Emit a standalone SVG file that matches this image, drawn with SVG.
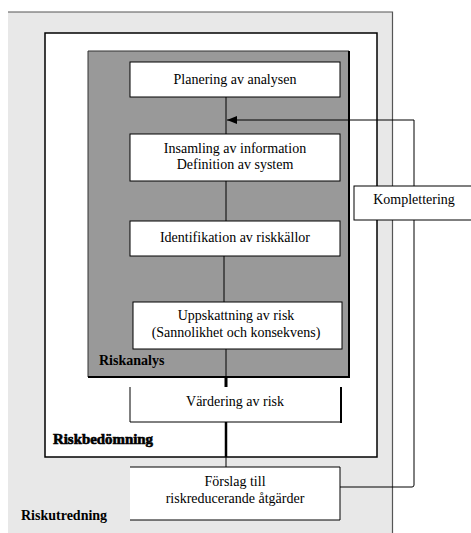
<svg xmlns="http://www.w3.org/2000/svg" width="471" height="533" viewBox="0 0 471 533">
<style>
.t{font-family:"Liberation Serif","Times New Roman",serif;font-size:14px;fill:#000;text-anchor:middle}
.b{font-family:"Liberation Serif","Times New Roman",serif;font-size:14px;font-weight:bold;fill:#000}
.box{fill:#fff;stroke:#000;stroke-width:1}
.ln{fill:none;stroke:#000;stroke-width:1}
</style>
<defs>
<marker id="ah" markerWidth="10" markerHeight="8" refX="10" refY="4" orient="auto" markerUnits="userSpaceOnUse">
<path d="M0,0 L10,4 L0,8 Z" fill="#000"/>
</marker>
</defs>
<rect width="471" height="533" fill="#fff"/>
<g id="riskutredning">
<rect x="8" y="12" width="384" height="522" fill="#e8e8e8"/>
<path d="M8,12 H392.5 V533" fill="none" stroke="#555" stroke-width="1.2"/>
<text class="b" x="21" y="520">Riskutredning</text>
</g>
<g id="riskbedomning">
<rect x="45" y="33" width="332" height="424" fill="#fff" stroke="#000" stroke-width="1.5"/>
<text class="b" x="53" y="444" stroke="#000" stroke-width="0.6" textLength="100" lengthAdjust="spacingAndGlyphs">Riskbedömning</text>
</g>
<g id="riskanalys">
<rect x="88" y="51" width="261" height="326" fill="#999"/>
<path d="M88,377 V51 H349" fill="none" stroke="#333" stroke-width="1"/>
<path d="M349,51 V377 H88" fill="none" stroke="#000" stroke-width="2"/>
<text class="b" x="99" y="365">Riskanalys</text>
</g>
<g id="connectors">
<line class="ln" x1="226" y1="97" x2="226" y2="134"/>
<line class="ln" x1="226" y1="181" x2="226" y2="221"/>
<line class="ln" x1="224" y1="256" x2="224" y2="302"/>
<line class="ln" x1="226" y1="349" x2="226" y2="377"/>
<line x1="226" y1="377" x2="226" y2="387" stroke="#000" stroke-width="3"/>
<line x1="226" y1="422" x2="226" y2="457" stroke="#000" stroke-width="2.5"/>
<line class="ln" x1="226" y1="457" x2="226" y2="467"/>
<path d="M340,487 H412 Q414,487 414,485 V120 H227" class="ln" marker-end="url(#ah)"/>
</g>
<g id="planering">
<rect class="box" x="130" y="62" width="210" height="35"/>
<text class="t" x="235" y="84">Planering av analysen</text>
</g>
<g id="insamling">
<rect class="box" x="130" y="134" width="210" height="47"/>
<text class="t" x="235" y="153">Insamling av information</text>
<text class="t" x="235" y="169">Definition av system</text>
</g>
<g id="identifikation">
<rect class="box" x="130" y="221" width="210" height="35"/>
<text class="t" x="235" y="242">Identifikation av riskkällor</text>
</g>
<g id="uppskattning">
<rect class="box" x="133" y="302" width="209" height="47"/>
<text class="t" x="236" y="320">Uppskattning av risk</text>
<text class="t" x="236" y="337">(Sannolikhet och konsekvens)</text>
</g>
<g id="vardering">
<path d="M130,387 V422 H341" class="ln"/>
<line x1="341" y1="387" x2="341" y2="423" stroke="#000" stroke-width="2"/>
<text class="t" x="235" y="406">Värdering av risk</text>
</g>
<g id="forslag">
<rect x="130" y="467" width="210" height="53" fill="#fff"/>
<path d="M130,467 H340 V520 H130" class="ln"/>
<text class="t" x="235" y="486">Förslag till</text>
<text class="t" x="235" y="503">riskreducerande åtgärder</text>
</g>
<g id="komplettering">
<rect class="box" x="354" y="186" width="130" height="34"/>
<text class="t" x="414" y="204">Komplettering</text>
</g>
</svg>
